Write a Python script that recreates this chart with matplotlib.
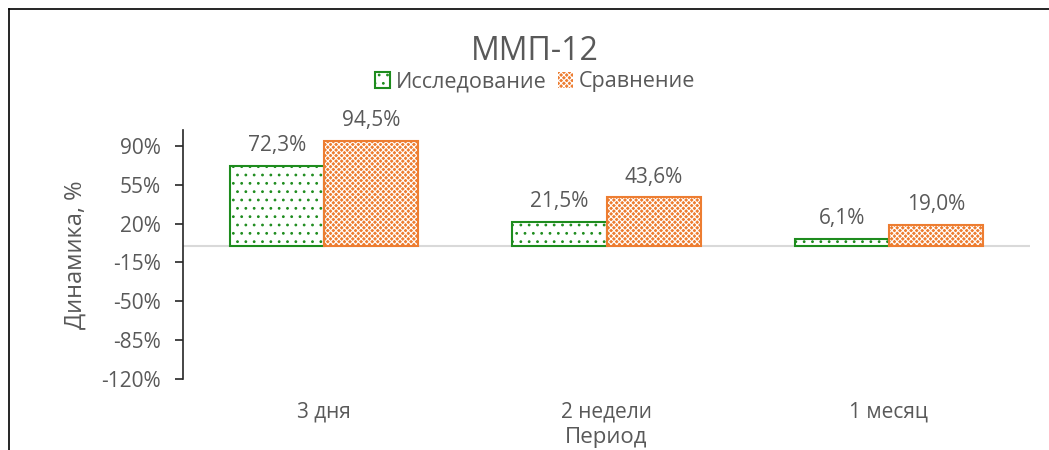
import numpy as np
import matplotlib.pyplot as plt
from matplotlib.patches import Patch
from matplotlib.lines import Line2D

plt.rcParams['font.family'] = ['Open Sans', 'DejaVu Sans']
plt.rcParams['hatch.linewidth'] = 0.8

# data
periods = ["3 дня", "2 недели", "1 месяц"]
study = [72.3, 21.5, 6.1]
compare = [94.5, 43.6, 19.0]
study_labels = ["72,3%", "21,5%", "6,1%"]
compare_labels = ["94,5%", "43,6%", "19,0%"]
yticks = [90, 55, 20, -15, -50, -85, -120]

green = "#1E8C1E"
orange = "#ED7D31"
grey_txt = "#595959"

fig = plt.figure(figsize=(10.49, 4.5), dpi=100)
ax = fig.add_axes([183 / 1049, 1 - 379 / 450, (1030 - 183) / 1049, (379 - 130) / 450])

x = np.arange(len(periods))
w = 1 / 3

# study bars: white with green dots
ax.bar(x - w / 2, study, w, facecolor="white", edgecolor=green, hatch="..", linewidth=0, zorder=2)
ax.bar(x - w / 2, study, w, fill=False, edgecolor=green, linewidth=1.5, zorder=3)

# comparison bars: orange with fine white pattern
ax.bar(x + w / 2, compare, w, facecolor=orange, edgecolor="white", hatch="xxxxxx", linewidth=0, zorder=2)
ax.bar(x + w / 2, compare, w, fill=False, edgecolor=orange, linewidth=1.5, zorder=3)

for xi, v, t in zip(x - w / 2, study, study_labels):
    ax.annotate(t, (xi, v), xytext=(0, 7), textcoords="offset points",
                ha="center", va="bottom", fontsize=15, color=grey_txt)
for xi, v, t in zip(x + w / 2, compare, compare_labels):
    ax.annotate(t, (xi, v), xytext=(0, 7), textcoords="offset points",
                ha="center", va="bottom", fontsize=15, color=grey_txt)

ax.axhline(0, color="#D9D9D9", linewidth=1.5, zorder=1)

ax.set_xlim(-0.5, 2.5)
ax.set_ylim(-120, 104.4)
ax.set_yticks(yticks)
ax.set_yticklabels([f"{t}%" for t in yticks])
ax.set_xticks(x)
ax.set_xticklabels(periods)

for s in ["top", "right", "bottom"]:
    ax.spines[s].set_visible(False)
ax.spines["left"].set_color("#262626")
ax.spines["left"].set_linewidth(1.2)
ax.tick_params(axis="y", direction="out", length=5.8, width=1.2, color="#262626",
               labelsize=15, labelcolor=grey_txt, pad=10)
ax.tick_params(axis="x", length=0, labelsize=15, labelcolor=grey_txt, pad=16)

ax.set_xlabel("Период", fontsize=16, color=grey_txt, va="center")
ax.xaxis.set_label_coords(0.5, (379 - 438) / 249)
ax.set_ylabel("Динамика, %", fontsize=17, color=grey_txt, labelpad=10)

fig.text(535 / 1049, 1 - 52 / 450, "ММП-12", ha="center", va="center", fontsize=23, color=grey_txt)

handles = [
    Patch(facecolor="white", edgecolor=green, hatch="..", linewidth=1.5, label="Исследование"),
    Patch(facecolor=orange, edgecolor="white", hatch="xxxxxx", linewidth=0, label="Сравнение"),
]
leg = fig.legend(handles=handles, loc="center", bbox_to_anchor=(535 / 1049, 1 - 82 / 450),
                 ncol=2, frameon=False, fontsize=15.5, handlelength=0.7, handleheight=0.7,
                 handletextpad=0.3, columnspacing=0.5)
for t in leg.get_texts():
    t.set_color(grey_txt)

# outer chart border (left and top)
fig.add_artist(Line2D([9 / 1049, 9 / 1049], [0, 1 - 9 / 450], transform=fig.transFigure, color="black", linewidth=1.2))
fig.add_artist(Line2D([9 / 1049, 1], [1 - 9 / 450, 1 - 9 / 450], transform=fig.transFigure, color="black", linewidth=1.2))

fig.savefig("out.png", dpi=100, facecolor="white")
